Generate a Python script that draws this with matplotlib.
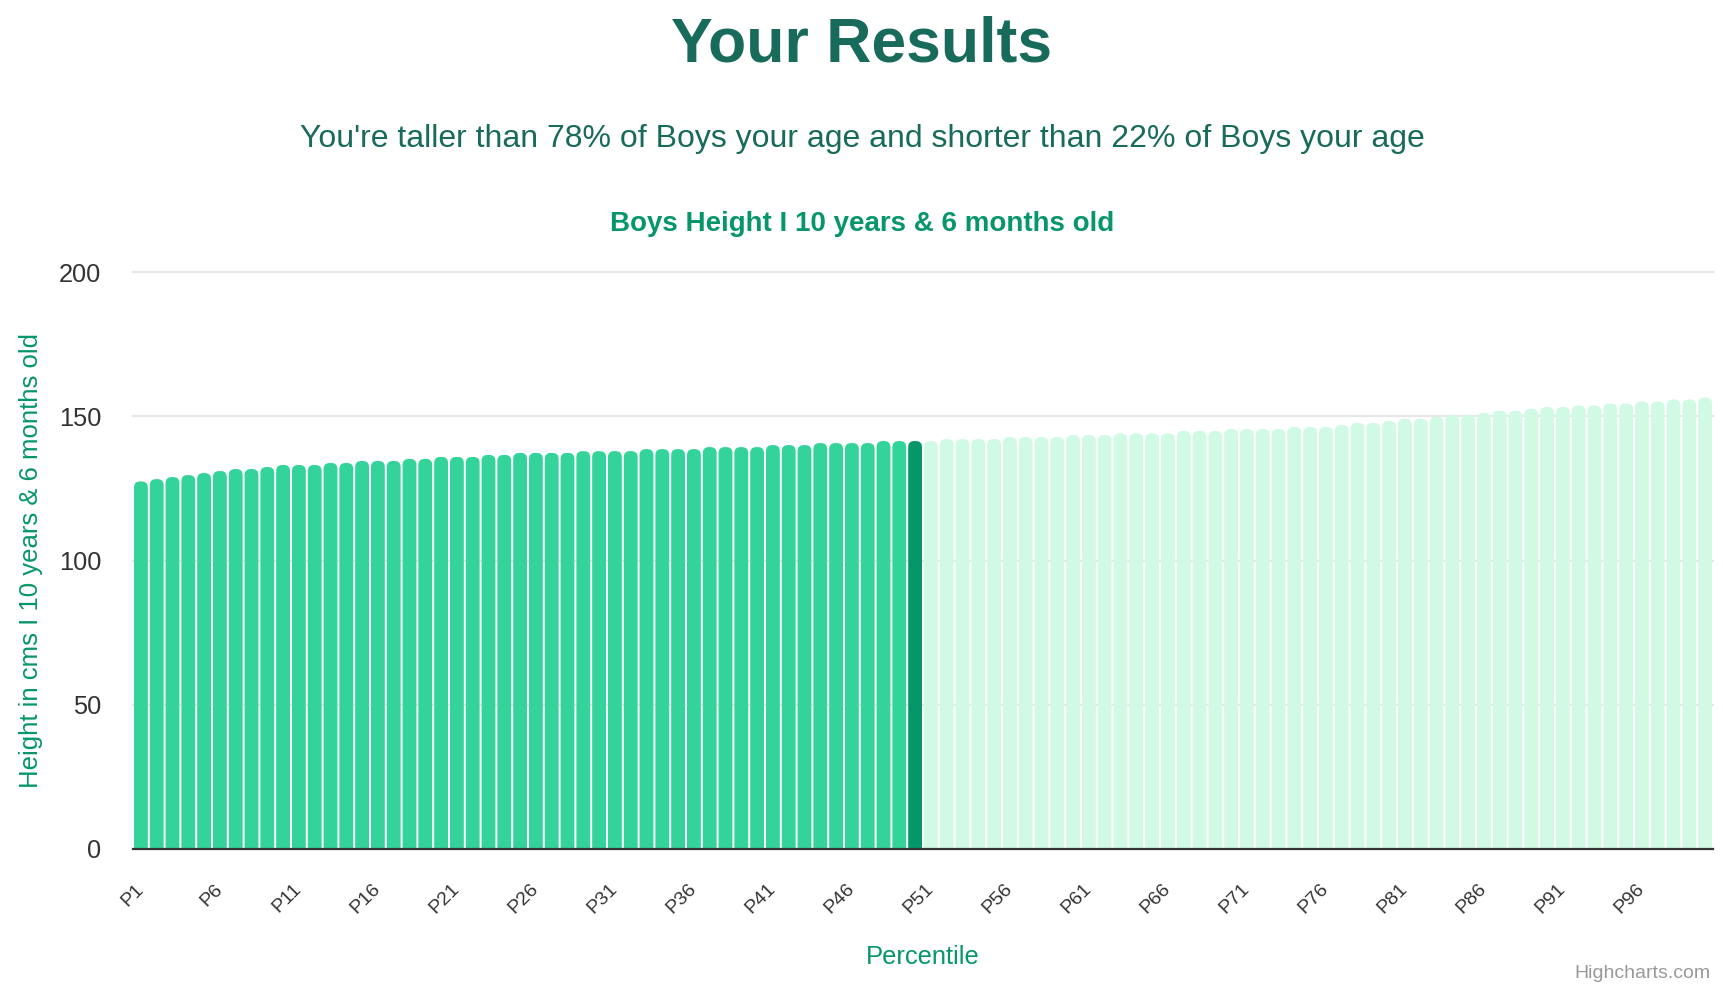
import numpy as np
import matplotlib.pyplot as plt
from matplotlib.patches import FancyBboxPatch, BoxStyle

plt.rcParams['font.family'] = ['Liberation Sans', 'DejaVu Sans']

# Données (taille en cm, garçons 10 ans et 6 mois)
percentiles = ["P%d" % i for i in range(1, 101)]
heights = [
    127.4, 128.2, 128.9, 129.6, 130.3, 131.0, 131.7, 131.7, 132.4, 133.1,
    133.1, 133.1, 133.8, 133.8, 134.5, 134.5, 134.5, 135.2, 135.2, 135.9,
    135.9, 135.9, 136.6, 136.6, 137.3, 137.3, 137.3, 137.3, 137.9, 137.9,
    137.9, 137.9, 138.6, 138.6, 138.6, 138.6, 139.3, 139.3, 139.3, 139.3,
    140.0, 140.0, 140.0, 140.7, 140.7, 140.7, 140.7, 141.4, 141.4, 141.4,
    141.4, 142.1, 142.1, 142.1, 142.1, 142.8, 142.8, 142.8, 142.8, 143.5,
    143.5, 143.5, 144.1, 144.1, 144.1, 144.1, 144.9, 144.9, 144.9, 145.6,
    145.6, 145.6, 145.6, 146.3, 146.3, 146.3, 147.0, 147.7, 147.7, 148.4,
    149.1, 149.1, 149.8, 150.5, 150.5, 151.2, 151.9, 151.9, 152.6, 153.2,
    153.2, 153.7, 153.7, 154.4, 154.4, 155.1, 155.1, 155.8, 155.8, 156.5,
]
highlight = 50  # percentile mis en évidence
yticks = [0, 50, 100, 150, 200]

# Couleurs
c_below = "#34d399"
c_user = "#059669"
c_above = "#d1fae5"
c_title = "#186b5a"
c_green = "#059669"

W, H = 1724, 990
fig = plt.figure(figsize=(W / 100, H / 100), dpi=100)
ax_left, ax_right, ax_bottom, ax_top = 133, 1713, 849, 272
ax = fig.add_axes([ax_left / W, 1 - ax_bottom / H, (ax_right - ax_left) / W, (ax_bottom - ax_top) / H])

x = np.arange(1, len(heights) + 1)
ax.set_xlim(0.5, len(heights) + 0.5)
ax.set_ylim(0, 200)

# rapport d'aspect pour arrondir le haut des barres
px_x = (ax_right - ax_left) / len(heights)
px_y = (ax_bottom - ax_top) / 200
aspect = px_x / px_y
bar_w = 0.875
r = 6 / px_x

for xi, h in zip(x, heights):
    if xi < highlight:
        col = c_below
    elif xi == highlight:
        col = c_user
    else:
        col = c_above
    p = FancyBboxPatch((xi - bar_w / 2, -10), bar_w, h + 10,
                       boxstyle=BoxStyle.Round(pad=0, rounding_size=r),
                       mutation_aspect=aspect, facecolor=col, edgecolor="none",
                       zorder=2)
    ax.add_patch(p)
    p.set_clip_box(ax.bbox)

ax.set_yticks(yticks)
ax.set_yticklabels([str(v) for v in yticks], fontsize=18.3, color="#333333")
ax.tick_params(axis="y", length=0, pad=23)
ax.yaxis.grid(True, color="#e6e6e6", linewidth=1.5, zorder=0)
for gl in ax.get_ygridlines():
    gl.set_clip_on(False)
ax.set_axisbelow(True)

ax.set_xticks(x[::5])
ax.set_xticklabels(percentiles[::5], fontsize=14, color="#333333",
                   rotation=45, ha="right", va="center", rotation_mode="anchor")
ax.tick_params(axis="x", length=0, pad=27)

for s in ["top", "right", "left"]:
    ax.spines[s].set_visible(False)
ax.spines["bottom"].set_color("#333333")
ax.spines["bottom"].set_linewidth(1.6)
ax.spines["bottom"].set_zorder(3)

# Textes
fig.text(0.5, 1 - 62 / H, "Your Results", ha="center", va="baseline",
         fontsize=45, fontweight="bold", color=c_title)
fig.text(0.5, 1 - 147 / H,
         "You're taller than 78% of Boys your age and shorter than 22% of Boys your age",
         ha="center", va="baseline", fontsize=23, color=c_title)
fig.text(0.5, 1 - 231 / H, "Boys Height I 10 years & 6 months old", ha="center",
         va="baseline", fontsize=20, fontweight="bold", color=c_green)
fig.text(31 / W, 1 - 561 / H, "Height in cms I 10 years & 6 months old", rotation=90,
         ha="center", va="center", fontsize=18.5, color=c_green)
fig.text((ax_left + ax_right) / 2 / W, 1 - 957 / H, "Percentile", ha="center",
         va="center", fontsize=18.4, color=c_green)
fig.text(1711 / W, 1 - 973 / H, "Highcharts.com", ha="right", va="center",
         fontsize=14, color="#999999")

fig.savefig("out.png", dpi=100)
